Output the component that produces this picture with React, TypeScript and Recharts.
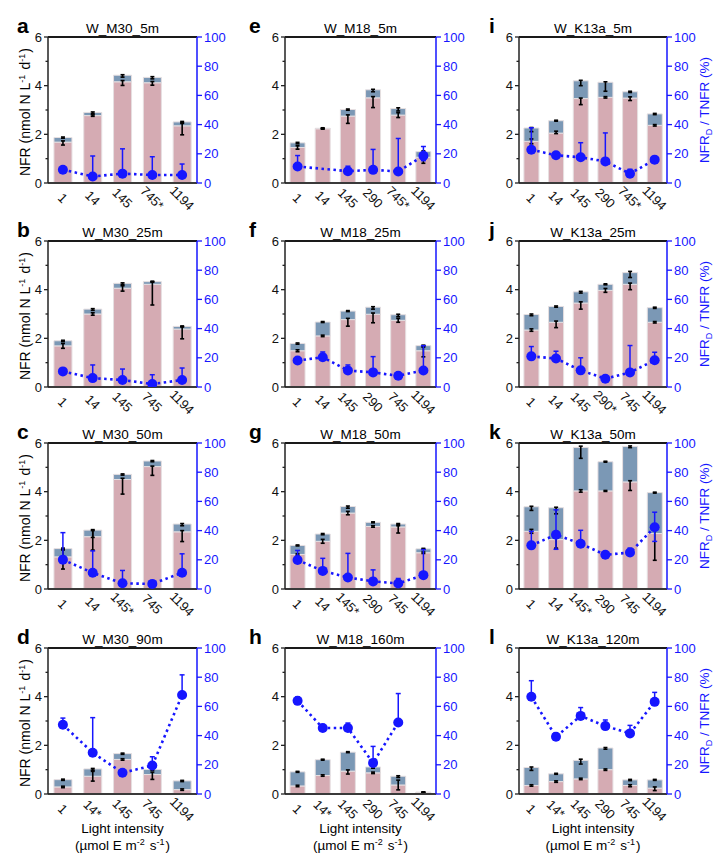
import React from 'react';
import { ComposedChart, Bar, Line, XAxis, YAxis, ErrorBar, ReferenceLine } from 'recharts';

// light NFR (pink), dark NFR (slate), their error bars, and NFR_D/TNFR ratio (%) per panel
const catsA = ['1', '14', '145', '745*', '1194'];
const lightA = [1.68, 2.77, 4.16, 4.12, 2.35];
const darkA = [0.19, 0.13, 0.27, 0.22, 0.16];
const lightErrA = [[0.12, 0.05], [0.03, 0.03], [0.15, 0.05], [0.1, 0.05], [0.37, 0.1]];
const totErrA = [[0.03, 0.02], [0.05, 0.02], [0.08, 0.02], [0.06, 0.03], [0.03, 0.02]];
const ratioA = [9.1, 4.5, 6.4, 5.5, 5.5];
const ratioErrA = [[0, 1.5], [0, 14], [0, 17], [0, 12.5], [0, 7.5]];

const catsB = ['1', '14', '145', '745', '1194'];
const lightB = [1.69, 3.0, 4.06, 4.22, 2.38];
const darkB = [0.21, 0.2, 0.2, 0.11, 0.11];
const lightErrB = [[0.1, 0.1], [0.05, 0.05], [0.12, 0.1], [0.85, 0.1], [0.4, 0.1]];
const totErrB = [[0.03, 0.02], [0.05, 0.02], [0.05, 0.02], [0.02, 0.02], [0.02, 0.02]];
const ratioB = [10.7, 6.1, 4.8, 2, 4.8];
const ratioErrB = [[0, 1], [0, 9], [0, 7.5], [0, 6.4], [0, 8.2]];

const catsC = ['1', '14', '145*', '745', '1194'];
const lightC = [1.32, 2.15, 4.5, 5.03, 2.35];
const darkC = [0.34, 0.27, 0.21, 0.23, 0.32];
const lightErrC = [[0.5, 0.3], [0.55, 0.25], [0.6, 0.05], [0.36, 0.02], [0.4, 0.05]];
const totErrC = [[0.05, 0.02], [0.3, 0.02], [0.03, 0.02], [0.03, 0.02], [0.07, 0.02]];
const ratioC = [20.1, 11.1, 3.9, 3.5, 11.1];
const ratioErrC = [[0, 18.5], [0, 15], [0, 8.8], [0, 1], [0, 13]];

const catsD = ['1', '14*', '145', '745', '1194'];
const lightD = [0.29, 0.73, 1.42, 0.8, 0.18];
const darkD = [0.3, 0.3, 0.24, 0.21, 0.36];
const lightErrD = [[0.03, 0.03], [0.2, 0.25], [0.03, 0.03], [0.2, 0.1], [0.03, 0.03]];
const totErrD = [[0.03, 0.02], [0.1, 0.02], [0.03, 0.02], [0.03, 0.02], [0.03, 0.02]];
const ratioD = [47.4, 28.3, 14.5, 19.5, 67.8];
const ratioErrD = [[0, 4.6], [0, 24], [0, 1], [0, 6], [0, 13.8]];

const catsE = ['1', '14', '145', '290', '745*', '1194'];
const lightE = [1.46, 2.23, 2.75, 3.5, 2.79, 1.06];
const darkE = [0.19, 0.02, 0.27, 0.33, 0.27, 0.23];
const lightErrE = [[0.07, 0.07], [0.02, 0.02], [0.3, 0.05], [0.4, 0.05], [0.1, 0.1], [0.25, 0.1]];
const totErrE = [[0.04, 0.02], [0.02, 0.02], [0.03, 0.02], [0.08, 0.02], [0.1, 0.03], [0.1, 0.03]];
const ratioE = [11.3, null, 8.1, 9, 7.9, 18.7];
const ratioErrE = [[0, 7.5], null, [0, 3.4], [0, 14], [0, 22.6], [3.4, 6.3]];

const catsF = ['1', '14', '145', '290', '745', '1194'];
const lightF = [1.49, 2.1, 2.77, 2.99, 2.74, 1.49];
const darkF = [0.3, 0.57, 0.35, 0.29, 0.23, 0.21];
const lightErrF = [[0.04, 0.04], [0.03, 0.03], [0.27, 0.05], [0.35, 0.05], [0.08, 0.08], [0.25, 0.15]];
const totErrF = [[0.03, 0.02], [0.02, 0.02], [0.02, 0.02], [0.08, 0.02], [0.08, 0.02], [0.02, 0.02]];
const ratioF = [18.1, 20.4, 11.3, 10, 7.7, 11.3];
const ratioErrF = [[0, 1], [0, 3.6], [0, 3.8], [0, 10.8], [0, 1], [0, 17]];

const catsG = ['1', '14', '145*', '290', '745', '1194'];
const lightG = [1.42, 1.96, 3.12, 2.57, 2.55, 1.49];
const darkG = [0.37, 0.3, 0.27, 0.17, 0.12, 0.16];
const lightErrG = [[0.03, 0.03], [0.08, 0.08], [0.07, 0.07], [0.03, 0.03], [0.25, 0.05], [0.03, 0.03]];
const totErrG = [[0.02, 0.02], [0.03, 0.02], [0.07, 0.02], [0.02, 0.02], [0.02, 0.02], [0.02, 0.02]];
const ratioG = [19.9, 12.4, 7.9, 5.2, 3.8, 9.5];
const ratioErrG = [[0, 6.5], [0, 8.6], [0, 16.5], [0, 7.9], [0, 3.4], [0, 17.5]];

const catsH = ['1', '14*', '145', '290', '745', '1194'];
const lightH = [0.33, 0.76, 0.94, 0.87, 0.37, 0.06];
const darkH = [0.58, 0.65, 0.78, 0.24, 0.36, 0.02];
const lightErrH = [[0.03, 0.03], [0.03, 0.03], [0.12, 0.05], [0.03, 0.03], [0.2, 0.2], [0.01, 0.01]];
const totErrH = [[0.02, 0.02], [0.02, 0.02], [0.02, 0.02], [0.05, 0.02], [0.05, 0.02], [0.01, 0.01]];
const ratioH = [63.8, 45.2, 45.2, 21.3, 49, null];
const ratioErrH = [[0, 2.7], [0, 1], [0, 3.4], [0, 11.3], [0, 19.8], null];

const catsI = ['1', '14', '145', '290', '745*', '1194'];
const lightI = [1.71, 2.05, 3.47, 3.52, 3.49, 2.37];
const darkI = [0.55, 0.51, 0.73, 0.62, 0.26, 0.47];
const lightErrI = [[0.1, 0.1], [0.02, 0.08], [0.25, 0.02], [0.03, 0.03], [0.1, 0.05], [0.03, 0.03]];
const totErrI = [[0.15, 0.02], [0.02, 0.02], [0.2, 0.02], [0.37, 0.02], [0.03, 0.02], [0.03, 0.02]];
const ratioI = [22.8, 19, 17.6, 14.8, 6.4, 16];
const ratioErrI = [[0, 15], [0, 1], [0, 10], [0, 19.5], [0, 3], [0, 1]];

const catsJ = ['1', '14', '145', '290*', '745', '1194'];
const lightJ = [2.34, 2.66, 3.45, 3.97, 4.22, 2.66];
const darkJ = [0.64, 0.65, 0.46, 0.25, 0.48, 0.6];
const lightErrJ = [[0.05, 0.05], [0.22, 0.05], [0.25, 0.05], [0.08, 0.08], [0.22, 0.05], [0.03, 0.03]];
const totErrJ = [[0.05, 0.02], [0.03, 0.02], [0.05, 0.02], [0.02, 0.02], [0.2, 0.05], [0.03, 0.02]];
const ratioJ = [21, 19.5, 11.4, 5.7, 10, 18.3];
const ratioErrJ = [[0, 6.7], [0, 5], [0, 8.6], [0, 1], [0, 18.4], [0, 5.5]];

const catsK = ['1', '14', '145*', '290', '745', '1194'];
const lightK = [2.37, 2.03, 4.03, 4.03, 4.4, 2.28];
const darkK = [1.01, 1.31, 1.79, 1.2, 1.46, 1.68];
const lightErrK = [[0.08, 0.08], [0.35, 0.35], [0.05, 0.05], [0.02, 0.02], [0.35, 0.05], [1.1, 0.3]];
const totErrK = [[0.15, 0.02], [0.25, 0.02], [0.45, 0.05], [0.02, 0.02], [0.05, 0.02], [0.02, 0.02]];
const ratioK = [29.9, 37.2, 31, 23.4, 25, 42.3];
const ratioErrK = [[0, 9.6], [10, 17], [0, 9.2], [0, 1], [0, 3], [9.7, 10.3]];

const catsL = ['1', '14*', '145', '290', '745', '1194'];
const lightL = [0.35, 0.51, 0.62, 1.0, 0.35, 0.24];
const darkL = [0.74, 0.32, 0.76, 0.89, 0.23, 0.34];
const lightErrL = [[0.03, 0.03], [0.03, 0.03], [0.03, 0.03], [0.03, 0.03], [0.05, 0.03], [0.1, 0.05]];
const totErrL = [[0.12, 0.02], [0.02, 0.02], [0.15, 0.05], [0.05, 0.02], [0.03, 0.02], [0.02, 0.02]];
const ratioL = [66.6, 39.2, 53.5, 46.5, 41.5, 63.1];
const ratioErrL = [[0, 11], [0, 1], [0, 5.7], [0, 4.2], [0, 5.5], [0, 6.5]];

const leftTicks = [0, 1, 2, 3, 4, 5, 6];
const rightTicks = [0, 20, 40, 60, 80, 100];

const PINK = '#d5abb3';
const SLATE = '#7b98b5';
const BLUE = '#1616ff';
const FONT = '"Liberation Sans", Arial, sans-serif';

// plot-area geometry of the 3x4 grid
const colLeft = [48, 285, 519];
const colWidth = [149, 151, 148];
const letterX = [17, 249, 489];
const rowTop = [37, 241, 443, 648];
const PH = 146;
const LW = 30;
const RW = 44;
const MT = 12;
const XH = 40;

const panels = [
  { id: 'a', title: 'W_M30_5m', col: 0, row: 0, cats: catsA, light: lightA, dark: darkA, le: lightErrA, te: totErrA, r: ratioA, re: ratioErrA },
  { id: 'b', title: 'W_M30_25m', col: 0, row: 1, cats: catsB, light: lightB, dark: darkB, le: lightErrB, te: totErrB, r: ratioB, re: ratioErrB },
  { id: 'c', title: 'W_M30_50m', col: 0, row: 2, cats: catsC, light: lightC, dark: darkC, le: lightErrC, te: totErrC, r: ratioC, re: ratioErrC },
  { id: 'd', title: 'W_M30_90m', col: 0, row: 3, cats: catsD, light: lightD, dark: darkD, le: lightErrD, te: totErrD, r: ratioD, re: ratioErrD },
  { id: 'e', title: 'W_M18_5m', col: 1, row: 0, cats: catsE, light: lightE, dark: darkE, le: lightErrE, te: totErrE, r: ratioE, re: ratioErrE },
  { id: 'f', title: 'W_M18_25m', col: 1, row: 1, cats: catsF, light: lightF, dark: darkF, le: lightErrF, te: totErrF, r: ratioF, re: ratioErrF },
  { id: 'g', title: 'W_M18_50m', col: 1, row: 2, cats: catsG, light: lightG, dark: darkG, le: lightErrG, te: totErrG, r: ratioG, re: ratioErrG },
  { id: 'h', title: 'W_M18_160m', col: 1, row: 3, cats: catsH, light: lightH, dark: darkH, le: lightErrH, te: totErrH, r: ratioH, re: ratioErrH },
  { id: 'i', title: 'W_K13a_5m', col: 2, row: 0, cats: catsI, light: lightI, dark: darkI, le: lightErrI, te: totErrI, r: ratioI, re: ratioErrI },
  { id: 'j', title: 'W_K13a_25m', col: 2, row: 1, cats: catsJ, light: lightJ, dark: darkJ, le: lightErrJ, te: totErrJ, r: ratioJ, re: ratioErrJ },
  { id: 'k', title: 'W_K13a_50m', col: 2, row: 2, cats: catsK, light: lightK, dark: darkK, le: lightErrK, te: totErrK, r: ratioK, re: ratioErrK },
  { id: 'l', title: 'W_K13a_120m', col: 2, row: 3, cats: catsL, light: lightL, dark: darkL, le: lightErrL, te: totErrL, r: ratioL, re: ratioErrL },
];

function LeftTick({ x, y, payload }: any) {
  const v = payload.value;
  const major = v % 2 === 0;
  return (
    <g>
      <line x1={x - (major ? 4 : 2.5)} x2={x} y1={y} y2={y} stroke="#222" strokeWidth={1.3} />
      {major && (
        <text x={x - 6} y={y} dy="0.36em" textAnchor="end" fontSize={13} fill="#111">
          {v}
        </text>
      )}
    </g>
  );
}

function BottomTick({ x, y, payload }: any) {
  const ty = y + 15;
  return (
    <text x={x} y={ty} dy="0.36em" textAnchor="middle" fontSize={13} fill="#111" transform={`rotate(45 ${x} ${ty})`}>
      {payload.value}
    </text>
  );
}

function Panel({ p }: any) {
  const data = p.cats.map((c: string, i: number) => ({
    c,
    light: p.light[i],
    dark: p.dark[i],
    le: p.le[i],
    te: p.te[i],
    r: p.r[i],
    re: p.re[i],
  }));
  const plotW = colWidth[p.col];
  return (
    <div style={{ position: 'absolute', left: colLeft[p.col] - LW, top: rowTop[p.row] - MT }}>
      <ComposedChart
        width={LW + plotW + RW}
        height={MT + PH + XH}
        data={data}
        margin={{ top: MT, right: 0, bottom: 0, left: 0 }}
        barCategoryGap="20%"
      >
        <XAxis
          dataKey="c"
          height={XH}
          interval={0}
          tickSize={0}
          tickMargin={0}
          tickLine={false}
          axisLine={{ stroke: '#3a3a3a', strokeWidth: 2 }}
          tick={BottomTick}
        />
        <YAxis
          yAxisId="l"
          width={LW}
          domain={[0, 6]}
          ticks={leftTicks}
          allowDataOverflow
          tickSize={0}
          tickMargin={0}
          tickLine={false}
          axisLine={{ stroke: '#222', strokeWidth: 1.5 }}
          tick={LeftTick}
        />
        <YAxis
          yAxisId="r"
          orientation="right"
          width={RW}
          domain={[0, 100]}
          ticks={rightTicks}
          allowDataOverflow
          tickSize={5}
          tickMargin={2}
          stroke={BLUE}
          axisLine={{ stroke: BLUE, strokeWidth: 1.5 }}
          tickLine={{ stroke: BLUE, strokeWidth: 1.3 }}
          tick={{ fill: BLUE, fontSize: 13 }}
        />
        {/* top frame line of the box */}
        <ReferenceLine yAxisId="l" y={6} stroke="#1a1a1a" strokeWidth={1.8} ifOverflow="visible" />
        <Bar yAxisId="l" dataKey="light" stackId="s" fill={PINK} stroke="#e6dfe1" strokeWidth={1} isAnimationActive={false}>
          <ErrorBar dataKey="le" width={2} stroke="#000" strokeWidth={1.6} />
        </Bar>
        <Bar yAxisId="l" dataKey="dark" stackId="s" fill={SLATE} stroke="#e6dfe1" strokeWidth={1} isAnimationActive={false}>
          <ErrorBar dataKey="te" width={2} stroke="#000" strokeWidth={1.6} />
        </Bar>
        <Line
          yAxisId="r"
          type="linear"
          dataKey="r"
          stroke={BLUE}
          strokeWidth={2.6}
          strokeDasharray="2.5 3.5"
          dot={{ r: 5, fill: BLUE, stroke: 'none' }}
          activeDot={false}
          connectNulls
          isAnimationActive={false}
        >
          <ErrorBar dataKey="re" width={2.5} stroke={BLUE} strokeWidth={1.5} />
        </Line>
      </ComposedChart>
    </div>
  );
}

function Sup({ t, fs = 9 }: any) {
  return (
    <>
      <tspan dy={-5} fontSize={fs}>{t}</tspan>
      <tspan dy={5}>{'\u200a'}</tspan>
    </>
  );
}

function Labels() {
  return (
    <svg width={716} height={860} style={{ position: 'absolute', left: 0, top: 0, pointerEvents: 'none' }} fontFamily={FONT}>
      {panels.map((p) => {
        const cx = colLeft[p.col] + colWidth[p.col] / 2;
        const top = rowTop[p.row];
        return (
          <g key={p.id}>
            <text x={letterX[p.col]} y={top - 4} fontSize={21} fontWeight="bold" fill="#000">
              {p.id}
            </text>
            <text x={cx} y={top - 4} fontSize={13.5} textAnchor="middle" fill="#000">
              {p.title}
            </text>
          </g>
        );
      })}
      {rowTop.map((top, i) => {
        const cy = top + PH / 2 + 2;
        const ry = top + PH / 2;
        return (
          <g key={'ax' + i}>
            <text x={30} y={cy} fontSize={14} textAnchor="middle" fill="#000" transform={`rotate(-90 30 ${cy})`}>
              NFR (nmol N L<Sup t="-1" /> d<Sup t="-1" />)
            </text>
            <text x={709} y={ry} fontSize={13.5} textAnchor="middle" fill={BLUE} transform={`rotate(-90 709 ${ry})`}>
              NFR<tspan dy={3} fontSize={9}>D</tspan>
              <tspan dy={-3}> / TNFR (%)</tspan>
            </text>
          </g>
        );
      })}
      {colLeft.map((l, i) => {
        const cx = l + colWidth[i] / 2;
        return (
          <g key={'xl' + i}>
            <text x={cx} y={833} fontSize={13.5} textAnchor="middle" fill="#000">
              Light intensity
            </text>
            <text x={cx} y={850} fontSize={13.5} textAnchor="middle" fill="#000">
              (µmol E m<Sup t="-2" /> s<Sup t="-1" />)
            </text>
          </g>
        );
      })}
    </svg>
  );
}

export default function App() {
  return (
    <div style={{ position: 'absolute', left: 0, top: 0, width: 716, height: 860, background: '#fff', fontFamily: FONT }}>
      {panels.map((p) => (
        <Panel key={p.id} p={p} />
      ))}
      <Labels />
    </div>
  );
}
